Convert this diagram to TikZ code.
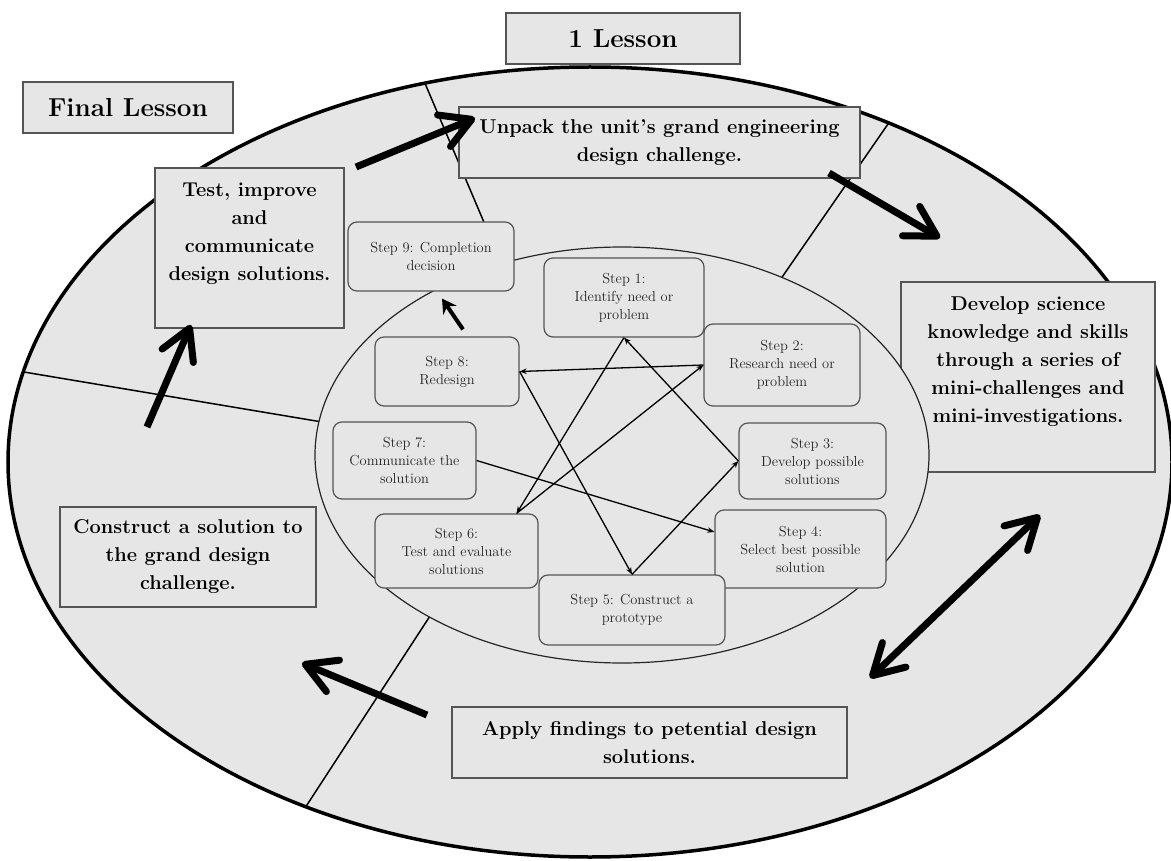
\documentclass[tikz,border=0pt]{standalone}
\usepackage{fontspec}
\usetikzlibrary{arrows.meta, positioning, calc}
\definecolor{panelgray}{HTML}{E6E6E6}
\definecolor{edgegray}{HTML}{555555}
\definecolor{stepink}{HTML}{262626}

\begin{document}
\begin{tikzpicture}[x=1pt, y=-1pt,
    bigbox/.style={draw=edgegray, line width=1.3pt, fill=panelgray, rectangle, align=center, font=\fontsize{20}{28}\selectfont\bfseries, inner sep=0pt},
    bigtext/.style={align=center, font=\fontsize{20}{28}\selectfont\bfseries, inner sep=0pt},
    lessonbox/.style={draw=edgegray, line width=1.3pt, fill=panelgray, align=center, font=\fontsize{26}{30}\selectfont\bfseries},
    stepbox/.style={draw=edgegray, line width=1.2pt, fill=panelgray, rounded corners=9pt, align=center, text=stepink, font=\fontsize{14.5}{18}\selectfont, inner sep=0pt},
    steparrow/.style={-{Stealth[length=7pt, width=5.5pt]}, line width=1.3pt},
    bigarrow/.style={-{Straight Barb[length=30pt, width=34pt, round]}, line width=7pt},
    ]
    \useasboundingbox (0,0) rectangle (1171,861);

    % outer ring and its four sectors
    \draw[line width=3.5pt, fill=panelgray] (590,462) ellipse [x radius=582, y radius=395];
    \begin{scope}
        \clip (590,462) ellipse [x radius=582, y radius=395];
        \draw[line width=1.5pt] (410,48) -- (500,260);
        \draw[line width=1.5pt] (915,85) -- (760,309);
        \draw[line width=1.5pt] (0,368) -- (340,425);
        \draw[line width=1.5pt] (445,593) -- (290,831);
    \end{scope}

    % unit phases
    \node[bigbox, minimum width=401, minimum height=71] (unpack) at (659.5,142.5) {Unpack the unit’s grand engineering\\design challenge.};
    \node[bigbox, minimum width=189, minimum height=160] (improve) at (249.5,248) {};
    \node[bigtext, below=15pt of improve.north] (improvetext) {Test, improve\\and\\communicate\\design solutions.};
    \node[bigbox, minimum width=254, minimum height=190] (develop) at (1028,377) {};
    \node[bigtext, below=15pt of develop.north] (developtext) {Develop science\\knowledge and skills\\through a series of\\mini-challenges and\\mini-investigations.};
    \node[bigbox, minimum width=256, minimum height=100] (construct) at (188,557) {Construct a solution to\\the grand design\\challenge.};
    \node[bigbox, minimum width=395, minimum height=71] (apply) at (649.5,742.5) {Apply findings to petential design\\solutions.};

    \node[lessonbox, minimum width=234, minimum height=51] (firstlesson) at (623,38.5) {1 Lesson};
    \node[lessonbox, minimum width=210, minimum height=51] (finallesson) at (128,107.5) {Final Lesson};

    % inner ring with the design steps
    \draw[line width=1.2pt, draw=black!85, fill=panelgray] (622,455) ellipse [x radius=307, y radius=208];

    \node[stepbox, minimum width=166, minimum height=69] (s9) at (431,256.5) {Step 9: Completion\\decision};
    \node[stepbox, minimum width=160, minimum height=79] (s1) at (624,297.5) {Step 1:\\Identify need or\\problem};
    \node[stepbox, minimum width=156, minimum height=82] (s2) at (782,365) {Step 2:\\Research need or\\problem};
    \node[stepbox, minimum width=144, minimum height=69] (s8) at (447,371.5) {Step 8:\\Redesign};
    \node[stepbox, minimum width=143, minimum height=77] (s7) at (404.5,460.5) {Step 7:\\Communicate the\\solution};
    \node[stepbox, minimum width=147, minimum height=76] (s3) at (812.5,461) {Step 3:\\Develop possible\\solutions};
    \node[stepbox, minimum width=163, minimum height=74] (s6) at (456.5,551) {Step 6:\\Test and evaluate\\solutions};
    \node[stepbox, minimum width=171, minimum height=78] (s4) at (800.5,549) {Step 4:\\Select best possible\\solution};
    \node[stepbox, minimum width=186, minimum height=70] (s5) at (632,610) {Step 5: Construct a\\prototype};

    % links between steps
    \coordinate (s6in) at ($(s6.north east)+(-22,0)$);
    \draw[steparrow] (s1.south) -- (s6in);
    \draw[steparrow] (s6in) -- (s2.west);
    \draw[steparrow] (s2.west) -- (s8.east);
    \draw[steparrow] (s8.east) -- (s5.north);
    \draw[steparrow] (s5.north) -- (s3.west);
    \draw[steparrow] (s3.west) -- (s1.south);
    \draw[steparrow] (s7.east) -- ([yshift=17pt]s4.west);
    \draw[-{Stealth[length=14pt, width=16pt]}, line width=4pt] ([xshift=16pt, yshift=7pt]s8.north) -- ([xshift=11pt, yshift=-7pt]s9.south);

    % flow round the unit
    \coordinate (a1s) at (356,167);
    \coordinate (a1e) at (475,118);
    \coordinate (a2s) at (829,173);
    \coordinate (a2e) at (940,238);
    \coordinate (a3s) at (870,678);
    \coordinate (a3e) at (1040,515);
    \coordinate (a4s) at (427,715);
    \coordinate (a4e) at (302,663);
    \coordinate (a5s) at (147,427);
    \coordinate (a5e) at (191,325);
    \draw[bigarrow] (a1s) -- (a1e);
    \draw[bigarrow] (a2s) -- (a2e);
    \draw[bigarrow, {Straight Barb[length=30pt, width=34pt, round]}-{Straight Barb[length=30pt, width=34pt, round]}] (a3s) -- (a3e);
    \draw[bigarrow] (a4s) -- (a4e);
    \draw[bigarrow] (a5s) -- (a5e);
\end{tikzpicture}
\end{document}
